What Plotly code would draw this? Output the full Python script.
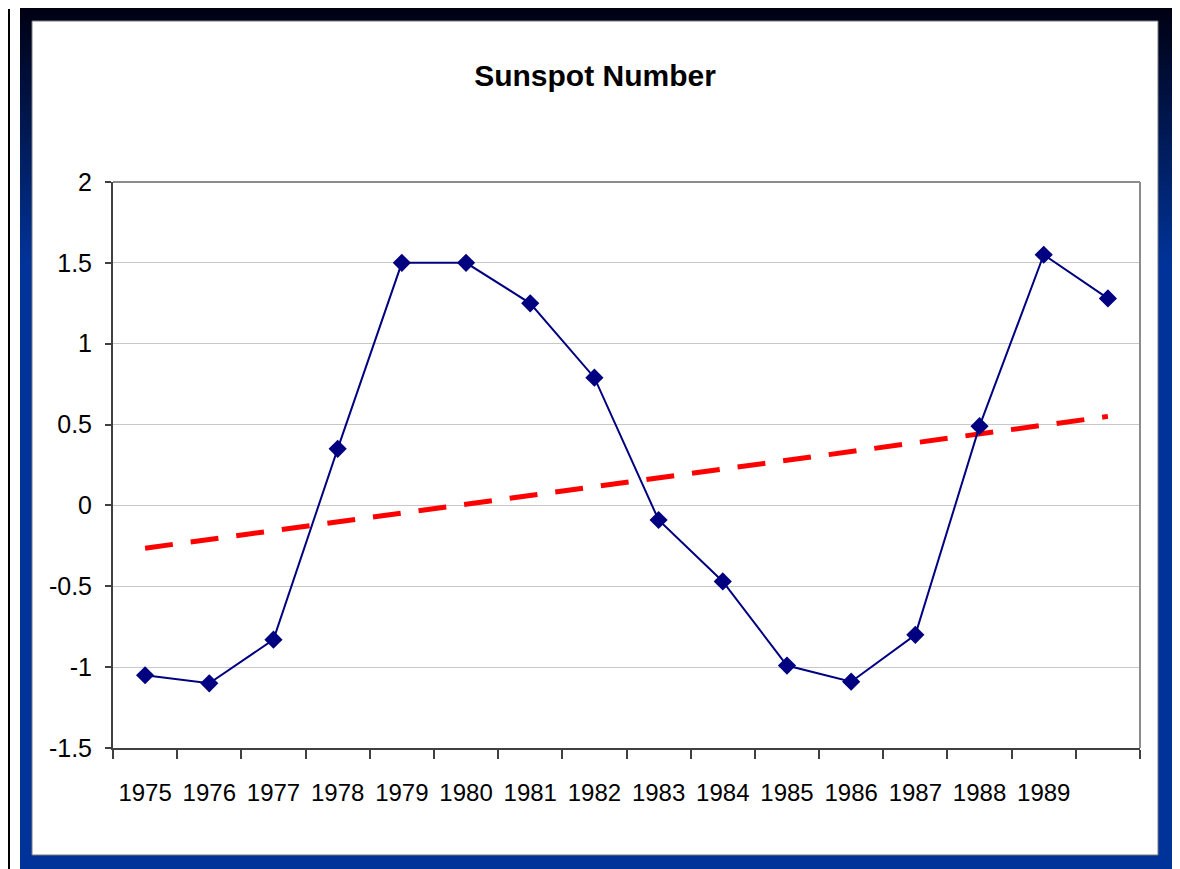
import numpy as np
import plotly.graph_objects as go

# data
years = [str(y) for y in range(1975, 1991)]
tick_labels = [str(y) for y in range(1975, 1990)] + [""]
sunspot = [-1.05, -1.10, -0.83, 0.35, 1.50, 1.50, 1.25, 0.79,
           -0.09, -0.47, -0.99, -1.09, -0.80, 0.49, 1.55, 1.28]
y_ticks = [-1.5, -1, -0.5, 0, 0.5, 1, 1.5, 2]
y_tick_text = ["-1.5", "-1", "-0.5", "0", "0.5", "1", "1.5", "2"]

# linear trendline (as Excel draws it) fitted to the series
idx = np.arange(len(sunspot))
slope, icpt = np.polyfit(idx, sunspot, 1)
trend = slope * idx + icpt

# page is shown with an 8px body margin, so work in page pixels and shift
OFF = 8
W, H = 1180 - OFF, 869 - OFF
ML, MR, MT, MB = 113 - OFF, 1180 - 1140, 182 - OFF, 869 - 748
PW, PH = W - ML - MR, H - MT - MB


def px(x):
    return (x - OFF - ML) / PW


def py(y):
    return (H - MB - (y - OFF)) / PH


def rect(x0, y0, x1, y1, color, line=None):
    return dict(type="rect", xref="paper", yref="paper", layer="below",
                x0=px(x0), x1=px(x1), y0=py(y1), y1=py(y0),
                fillcolor=color, line=line or dict(width=0))


shapes = []
# frame: dark at the top fading to blue
top, mid, bot = 5, 265, 869
steps = 52
for i in range(steps):
    t = i / (steps - 1)
    y0 = top + (mid - top) * i / steps
    y1 = top + (mid - top) * (i + 1) / steps + 1
    g, b = int(t * 0x33), int(0x12 + t * (0x99 - 0x12))
    shapes.append(rect(20, y0, 1172, y1, f"rgb(0,{g},{b})"))
shapes.append(rect(20, mid, 1172, bot, "#003399"))
# white inner panel
shapes.append(rect(32, 21, 1158, 855, "white", dict(color="#7a7a7a", width=1)))
# thin black line at the page edge
shapes.append(dict(type="line", xref="paper", yref="paper", layer="below",
                   x0=px(9), x1=px(9), y0=py(9), y1=py(880),
                   line=dict(color="black", width=2)))
# plot area border (top/right grey)
shapes.append(dict(type="line", xref="paper", yref="paper", layer="above",
                   x0=0, x1=1, y0=1, y1=1, line=dict(color="#8c8c8c", width=2)))
shapes.append(dict(type="line", xref="paper", yref="paper", layer="above",
                   x0=1, x1=1, y0=0, y1=1, line=dict(color="#8c8c8c", width=2)))

fig = go.Figure()
fig.add_trace(go.Scatter(x=years, y=trend, mode="lines",
                         line=dict(color="#ff0000", width=5, dash="28px,18px"),
                         hoverinfo="skip"))
fig.add_trace(go.Scatter(x=years, y=sunspot, mode="lines+markers",
                         line=dict(color="#000080", width=2),
                         marker=dict(symbol="diamond", size=14, color="#000080")))

font_main = "Liberation Sans, Arial, sans-serif"

fig.update_layout(
    width=W, height=H,
    margin=dict(l=ML, r=MR, t=MT, b=MB, pad=0, autoexpand=False),
    paper_bgcolor="white", plot_bgcolor="white",
    showlegend=False,
    shapes=shapes,
    font=dict(family=font_main, color="black", size=23),
    title=dict(text="<b>Sunspot Number</b>", x=(595 - OFF) / W, xanchor="center",
               y=1 - (75 - OFF) / H, yanchor="middle", yref="container",
               font=dict(family=font_main, size=30, color="black")),
)

fig.update_xaxes(type="category", tickmode="array", tickvals=years, ticktext=tick_labels,
                 tickson="boundaries", ticks="outside", ticklen=9, tickwidth=2,
                 tickcolor="#404040", showline=True, linecolor="#404040", linewidth=2,
                 showgrid=False, ticklabelstandoff=22, range=[-0.5, 15.5], tickangle=0,
                 tickfont=dict(size=24, family=font_main))
fig.update_yaxes(range=[-1.5, 2], tickmode="array", tickvals=y_ticks, ticktext=y_tick_text,
                 ticks="outside", ticklen=6, tickwidth=2, tickcolor="#404040",
                 showline=True, linecolor="#404040", linewidth=2,
                 showgrid=True, gridcolor="#c8c8c8", gridwidth=1,
                 zeroline=False, ticklabelstandoff=8,
                 tickfont=dict(size=25, family=font_main))

fig.write_html("out.html")
